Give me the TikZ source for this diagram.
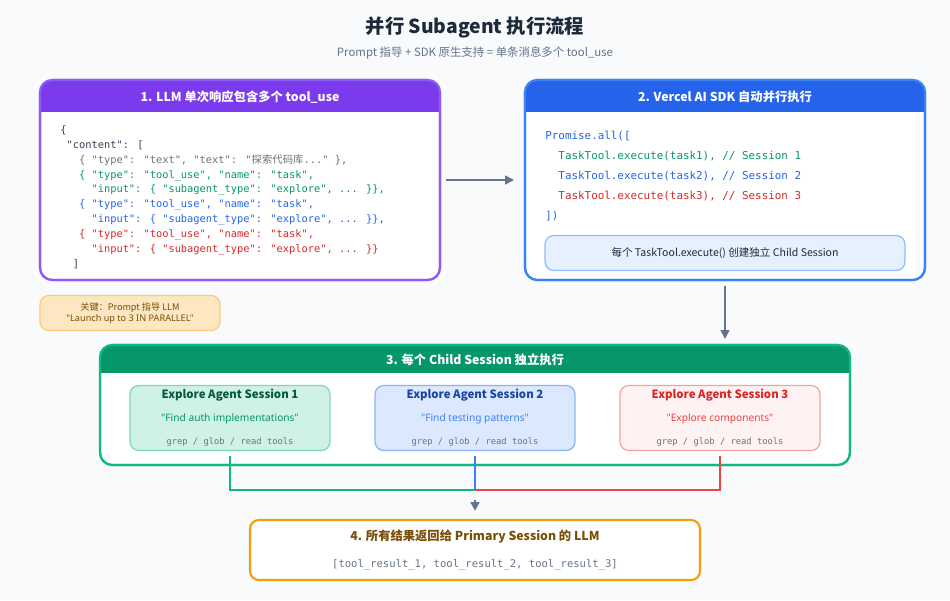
\documentclass[tikz,border=0pt]{standalone}
\usepackage{fontspec}
\setmainfont{Noto Sans CJK SC}
\newfontfamily\cjk{Noto Sans CJK SC}
\newfontfamily\latin{Noto Sans}
\newfontfamily\codefont{DejaVu Sans Mono}
\definecolor{BgColor}{HTML}{F8FAFC}
\definecolor{PurpleColor}{HTML}{8B5CF6}
\definecolor{PurpleHead}{HTML}{7C3AED}
\definecolor{BlueColor}{HTML}{3B82F6}
\definecolor{BlueHead}{HTML}{2563EB}
\definecolor{GreenColor}{HTML}{10B981}
\definecolor{GreenHead}{HTML}{059669}
\definecolor{OrangeColor}{HTML}{F59E0B}
\definecolor{RedColor}{HTML}{EF4444}
\definecolor{TitleColor}{HTML}{1E293B}
\definecolor{GrayText}{HTML}{64748B}
\definecolor{CodeText}{HTML}{334155}
\definecolor{CodeGray}{HTML}{6B7280}
\definecolor{CodeGreen}{HTML}{059669}
\definecolor{CodeBlue}{HTML}{2563EB}
\definecolor{CodeRed}{HTML}{DC2626}
\usetikzlibrary{positioning, arrows.meta}
\begin{document}
\begin{tikzpicture}[
    x=0.02cm, y=-0.02cm,
    panel/.style={draw, line width=1.2pt, rounded corners=7pt, fill=white, minimum height=#1*0.02cm, inner sep=0pt},
    head/.style={text=white, font=\bfseries\fontsize{7}{8}\selectfont},
    sub/.style={draw, line width=0.7pt, rounded corners=5pt, minimum width=4cm, minimum height=1.3cm, align=center, inner sep=0pt},
    code/.style={font=\codefont\fontsize{5.9}{8.5}\selectfont, align=left, anchor=north west, inner sep=0pt},
    arrow/.style={-{Triangle[length=5pt, width=5pt]}, line width=1pt, draw=GrayText},
]

% Background
\fill[BgColor] (0,0) rectangle (950,600);
\useasboundingbox (0,0) rectangle (950,600);

% Title
\node[font=\bfseries\fontsize{11}{12}\selectfont, text=TitleColor] (title) at (475,27) {并行 Subagent 执行流程};
\node[font=\fontsize{6.5}{8}\selectfont, text=GrayText] (subtitle) at (475,53) {Prompt 指导 + SDK 原生支持 = 单条消息多个 tool\_use};

% Step 1
\node[panel=200, draw=PurpleColor, minimum width=8cm] (llm) at (240,180) {};
\begin{scope}
  \clip[rounded corners=7pt] (40,80) rectangle (440,280);
  \fill[PurpleHead] (40,80) rectangle (440,112);
\end{scope}
\draw[PurpleColor, line width=1.2pt, rounded corners=7pt] (40,80) rectangle (440,280);
\node[head] (llmhead) at (240,97) {1. LLM 单次响应包含多个 tool\_use};
\node[code, text=CodeText] (json) at (60,125) {%
\{\\
\ "content": [\\
\ \ \ \textcolor{CodeGray}{\{ "type": "text", "text": "{\cjk 探索代码库}..." \},}\\
\ \ \ \textcolor{CodeGreen}{\{ "type": "tool\_use", "name": "task",}\\
\ \ \ \ \ \textcolor{CodeGreen}{"input": \{ "subagent\_type": "explore", ... \}\},}\\
\ \ \ \textcolor{CodeBlue}{\{ "type": "tool\_use", "name": "task",}\\
\ \ \ \ \ \textcolor{CodeBlue}{"input": \{ "subagent\_type": "explore", ... \}\},}\\
\ \ \ \textcolor{CodeRed}{\{ "type": "tool\_use", "name": "task",}\\
\ \ \ \ \ \textcolor{CodeRed}{"input": \{ "subagent\_type": "explore", ... \}\}}\\
\ \ ]};

% Step 2
\node[panel=200, draw=BlueColor, minimum width=8cm] (sdk) at (725,180) {};
\begin{scope}
  \clip[rounded corners=7pt] (525,80) rectangle (925,280);
  \fill[BlueHead] (525,80) rectangle (925,112);
\end{scope}
\draw[BlueColor, line width=1.2pt, rounded corners=7pt] (525,80) rectangle (925,280);
\node[head] (sdkhead) at (725,97) {2. Vercel AI SDK 自动并行执行};
\node[code, font=\codefont\fontsize{6.2}{11.3}\selectfont, text=BlueHead] (promise) at (545,131) {%
Promise.all([\\
\ \ \textcolor{CodeGreen}{TaskTool.execute(task1), // Session 1}\\
\ \ \textcolor{CodeBlue}{TaskTool.execute(task2), // Session 2}\\
\ \ \textcolor{CodeRed}{TaskTool.execute(task3), // Session 3}\\
])};
\node[sub, fill=BlueColor!12, draw=BlueColor!55, minimum width=7.2cm, minimum height=0.7cm,
      font=\fontsize{6}{7}\selectfont, text=TitleColor] (child) at (725,253) {每个 TaskTool.execute() 创建独立 Child Session};

% Note
\node[sub, fill=OrangeColor!25, draw=OrangeColor!55, minimum width=3.6cm, minimum height=0.7cm,
      font=\fontsize{5.2}{6.5}\selectfont, text=OrangeColor!50!black] (note) at (130,313)
      {关键：Prompt 指导 LLM\\{\latin "Launch up to 3 IN PARALLEL"}};

% Step 3
\node[panel=120, draw=GreenColor, minimum width=15cm] (exec) at (475,405) {};
\begin{scope}
  \clip[rounded corners=7pt] (100,345) rectangle (850,465);
  \fill[GreenHead] (100,345) rectangle (850,373);
\end{scope}
\draw[GreenColor, line width=1.2pt, rounded corners=7pt] (100,345) rectangle (850,465);
\node[head] (exechead) at (475,360) {3. 每个 Child Session 独立执行};

\node[sub, fill=GreenColor!20, draw=GreenColor!55] (s1) at (230,418) {%
  {\bfseries\fontsize{6.5}{8}\selectfont\color{GreenHead!60!black}Explore Agent Session 1}\\[1pt]
  {\latin\fontsize{5.8}{7}\selectfont\color{GreenHead}"Find auth implementations"}\\[1pt]
  {\codefont\fontsize{5}{6}\selectfont\color{CodeGray}grep / glob / read tools}};
\node[sub, fill=BlueColor!18, draw=BlueColor!60] (s2) at (475,418) {%
  {\bfseries\fontsize{6.5}{8}\selectfont\color{BlueHead!70!black}Explore Agent Session 2}\\[1pt]
  {\latin\fontsize{5.8}{7}\selectfont\color{BlueColor}"Find testing patterns"}\\[1pt]
  {\codefont\fontsize{5}{6}\selectfont\color{CodeGray}grep / glob / read tools}};
\node[sub, fill=RedColor!7, draw=RedColor!50] (s3) at (720,418) {%
  {\bfseries\fontsize{6.5}{8}\selectfont\color{CodeRed}Explore Agent Session 3}\\[1pt]
  {\latin\fontsize{5.8}{7}\selectfont\color{RedColor}"Explore components"}\\[1pt]
  {\codefont\fontsize{5}{6}\selectfont\color{CodeGray}grep / glob / read tools}};

% Step 4
\node[sub, fill=white, draw=OrangeColor, line width=1.2pt, minimum width=9cm, minimum height=1.2cm] (result) at (475,550) {%
  {\bfseries\fontsize{7}{8}\selectfont\color{OrangeColor!50!black}4. 所有结果返回给 Primary Session 的 LLM}\\[3pt]
  {\codefont\fontsize{6}{7}\selectfont\color{GrayText}[tool\_result\_1, tool\_result\_2, tool\_result\_3]}};

% Arrows
\coordinate (merge) at (475,490);
\draw[arrow] (llm.east) ++(5,0) -- ([xshift=-10*0.02cm]sdk.west);
\draw[arrow] ([yshift=-5*0.02cm]sdk.south) -- ([yshift=5*0.02cm]exec.north -| sdk);
\draw[GreenColor, line width=1pt] ([yshift=-5*0.02cm]s1.south) |- (merge);
\draw[RedColor, line width=1pt] ([yshift=-5*0.02cm]s3.south) |- (merge);
\draw[BlueColor, line width=1pt] ([yshift=-5*0.02cm]s2.south) -- (merge);
\draw[arrow, shorten <=10*0.02cm] (merge) -- ([yshift=8*0.02cm]result.north);

\end{tikzpicture}
\end{document}
